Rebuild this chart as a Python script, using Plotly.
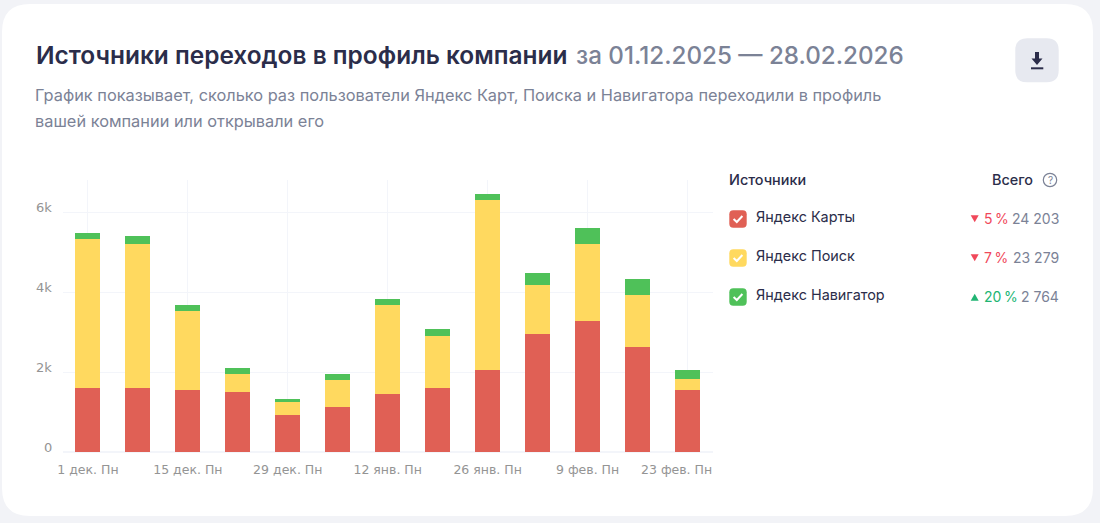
import plotly.graph_objects as go

# ---- data ----
weeks = ["1 дек. Пн", "8 дек. Пн", "15 дек. Пн", "22 дек. Пн", "29 дек. Пн", "5 янв. Пн", "12 янв. Пн",
         "19 янв. Пн", "26 янв. Пн", "2 фев. Пн", "9 фев. Пн", "16 фев. Пн", "23 фев. Пн"]
x_tick_labels = ["1 дек. Пн", "15 дек. Пн", "29 дек. Пн", "12 янв. Пн", "26 янв. Пн", "9 фев. Пн", "23 фев. Пн"]
y_tick_values = [0, 2000, 4000, 6000]
y_tick_labels = ["0", "2k", "4k", "6k"]
maps_values = [1600, 1600, 1550, 1492, 917, 1133, 1458, 1600, 2058, 2958, 3283, 2633, 1550]
search_values = [3717, 3608, 1975, 458, 333, 659, 2225, 1300, 4234, 1217, 1925, 1292, 267]
navigator_values = [150, 184, 158, 158, 75, 158, 134, 183, 150, 292, 400, 408, 241]
series_names = ["Яндекс Карты", "Яндекс Поиск", "Яндекс Навигатор"]
series_colors = ["#E06055", "#FFD95F", "#4FC159"]
change_labels = ["5\u2009%", "7\u2009%", "20\u2009%"]
change_up = [False, False, True]
total_labels = ["24 203", "23 279", "2 764"]

W, H = 1100, 523
FONT = "Inter"
DARK = "#2B2D4A"
GREY = "#7B8296"
TICK = "#949494"
GRID = "#F3F5FA"
BG = "#F2F3F7"
PAD = 2.3


def px(x):
    return x / W


def py(y):
    return 1 - y / H


def rrect(x0, y0, x1, y1, r):
    return (f"M{px(x0+r)},{py(y0)} L{px(x1-r)},{py(y0)} Q{px(x1)},{py(y0)} {px(x1)},{py(y0+r)} "
            f"L{px(x1)},{py(y1-r)} Q{px(x1)},{py(y1)} {px(x1-r)},{py(y1)} "
            f"L{px(x0+r)},{py(y1)} Q{px(x0)},{py(y1)} {px(x0)},{py(y1-r)} "
            f"L{px(x0)},{py(y0+r)} Q{px(x0)},{py(y0)} {px(x0+r)},{py(y0)} Z")


def poly(points, close=True):
    s = "M" + " L".join(f"{px(a)},{py(b)}" for a, b in points)
    return s + (" Z" if close else "")


shapes, annos = [], []


def shape(path, fill="rgba(0,0,0,0)", line=None, width=0):
    shapes.append(dict(type="path", path=path, xref="paper", yref="paper", fillcolor=fill, layer="below",
                       line=dict(color=line or "rgba(0,0,0,0)", width=width)))


def text(x, y, s, size, color, anchor="left", weight=400):
    adj = {"left": -PAD, "right": PAD, "center": 0}[anchor]
    annos.append(dict(x=px(x + adj), y=py(y), xref="paper", yref="paper", text=s, showarrow=False, xanchor=anchor,
                      yanchor="middle", align=anchor,
                      font=dict(family=FONT, size=size, color=color, weight=weight)))


# card
shape(rrect(2, 4, 1093, 516, 28), fill="#FFFFFF")

# header
text(36, 55.3, "Источники переходов в профиль компании", 24.45, DARK, weight=600)
text(576, 55.3, "за 01.12.2025 — 28.02.2026", 24.2, GREY, weight=500)
text(35, 95.5, "График показывает, сколько раз пользователи Яндекс Карт, Поиска и Навигатора переходили в профиль", 16.35, GREY)
text(35, 120.8, "вашей компании или открывали его", 16.35, GREY)

# download button
shape(rrect(1015.3, 38.3, 1058.7, 82.3, 12), fill="#E7E9F0")
shape(poly([(1035, 52), (1039, 52), (1039, 58.5), (1042.5, 58.5), (1037, 65), (1031.5, 58.5), (1035, 58.5)]), fill=DARK)
shape(poly([(1031, 68.3), (1043.3, 68.3)], close=False), line=DARK, width=2)

# side panel
text(729.5, 179.5, "Источники", 14.4, DARK, weight=500)
text(1033, 179.5, "Всего", 14.4, DARK, "right", weight=500)
shapes.append(dict(type="circle", xref="paper", yref="paper", x0=px(1043.3), x1=px(1056.7), y0=py(186.7), y1=py(173.3),
                   line=dict(color=GREY, width=1.2), fillcolor="rgba(0,0,0,0)", layer="below"))
text(1050, 180, "?", 10, GREY, "center")

for i, name in enumerate(series_names):
    cy = [219, 258, 297][i]
    shape(rrect(729.3, cy - 8.7, 746.7, cy + 8.7, 4), fill=series_colors[i])
    shape(poly([(733.6, cy), (736.8, cy + 3), (742.4, cy - 3)], close=False), line="#FFFFFF", width=2)
    text(755.8, cy - 2.8, name, 14.4, DARK)
    col = "#21B573" if change_up[i] else "#F0485A"
    if change_up[i]:
        shape(poly([(970.7, cy + 3.8), (978.7, cy + 3.8), (974.7, cy - 3.2)]), fill=col)
    else:
        shape(poly([(970.7, cy - 3.8), (978.7, cy - 3.8), (974.7, cy + 3.2)]), fill=col)
    text(984, cy - 0.5, change_labels[i], 14, col)
    text(1059, cy - 0.5, total_labels[i], 14, GREY, "right")

# y tick labels sit a little above their gridlines in the reference
for v, label in zip(y_tick_values, y_tick_labels):
    annos.append(dict(x=px(54), y=v, xref="paper", yref="y", text=label, showarrow=False, xanchor="right",
                      yanchor="middle", yshift=4.5, font=dict(family="DejaVu Sans", size=13, color=TICK)))

# last x label is pulled back inside the plot's right edge in the reference
annos.append(dict(x=x_tick_labels[-1], y=py(469), xref="x", yref="paper", text=x_tick_labels[-1], showarrow=False,
                  xanchor="center", yanchor="middle", xshift=-11,
                  font=dict(family="DejaVu Sans", size=12.5, color=TICK)))

fig = go.Figure()
for name, vals, col in zip(series_names, [maps_values, search_values, navigator_values], series_colors):
    fig.add_trace(go.Bar(x=weeks, y=vals, name=name, marker=dict(color=col, line=dict(width=0)), width=0.5))

fig.update_layout(
    width=W, height=H, margin=dict(l=0, r=0, t=0, b=0), barmode="stack", showlegend=False,
    paper_bgcolor=BG, plot_bgcolor="rgba(0,0,0,0)", shapes=shapes, annotations=annos,
    font=dict(family=FONT),
    xaxis=dict(type="category", categoryorder="array", categoryarray=weeks, range=[-0.5, 12.5], automargin=False,
               domain=[px(62.9), px(712.5)], tickmode="array", tickvals=x_tick_labels,
               ticktext=x_tick_labels[:-1] + [" "],
               showgrid=True, gridcolor=GRID, gridwidth=1, showline=False, ticks="", zeroline=False,
               tickangle=0, ticklabelstandoff=8, tickfont=dict(family="DejaVu Sans", size=12.5, color=TICK)),
    yaxis=dict(range=[0, 6800], domain=[py(452), py(180)], tickmode="array", tickvals=y_tick_values,
               ticktext=y_tick_labels, showticklabels=False, automargin=False, showgrid=True, gridcolor=GRID, gridwidth=1,
               zeroline=True, zerolinecolor=GRID, showline=False, ticks=""),
)

fig.write_html("out.html", config=dict(displayModeBar=False),
               post_script="document.body.style.margin='0';document.body.style.overflow='hidden';")
